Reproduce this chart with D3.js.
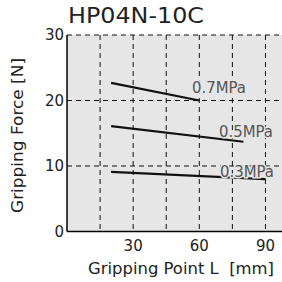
<!DOCTYPE html>
<html>
<head>
<meta charset="utf-8">
<script src="https://d3js.org/d3.v7.min.js"></script>
<style>
body { margin: 0; background: #fff; }
text { font-family: "DejaVu Sans", sans-serif; }
</style>
</head>
<body>
<div id="chart"></div>
<script>
var width = 282,
height = 282;

var title = "HP04N-10C";
var xTicks = [30, 60, 90];
var xGrid = [15, 30, 45, 60, 75, 90];
var yTicks = [0, 10, 20, 30];
var pressures = ["0.7MPa", "0.5MPa", "0.3MPa"];
var lineL = [[20, 60], [20, 80], [20, 90]];
var lineForce = [[22.7, 20], [16.1, 13.7], [9.1, 8.0]];

var x = d3.scaleLinear().domain([0, 97.5]).range([67, 282]);
var y = d3.scaleLinear().domain([0, 30]).range([231.5, 35]);

var svg = d3.select("#chart")
.append("svg")
.attr("width", width)
.attr("height", height);

// plot background
svg.append("rect")
.attr("x", x(0))
.attr("y", y(30))
.attr("width", width - x(0))
.attr("height", y(0) - y(30))
.attr("fill", "#e6e6e6");

// dashed grid
svg.selectAll(".vgrid")
.data(xGrid)
.enter()
.append("line")
.attr("x1", function(d) { return x(d) })
.attr("x2", function(d) { return x(d) })
.attr("y1", y(30))
.attr("y2", y(0))
.attr("stroke", "#111")
.attr("stroke-width", 1)
.attr("stroke-dasharray", "5,4");

svg.selectAll(".hgrid")
.data(yTicks.filter(function(d) { return d > 0 }))
.enter()
.append("line")
.attr("x1", x(0))
.attr("x2", width)
.attr("y1", function(d) { return y(d) })
.attr("y2", function(d) { return y(d) })
.attr("stroke", "#111")
.attr("stroke-width", 1)
.attr("stroke-dasharray", "5,4");

// axes lines
svg.append("line")
.attr("x1", x(0)).attr("x2", x(0))
.attr("y1", y(30)).attr("y2", y(0))
.attr("stroke", "#000").attr("stroke-width", 1.5);
svg.append("line")
.attr("x1", x(0)).attr("x2", width)
.attr("y1", y(0)).attr("y2", y(0))
.attr("stroke", "#000").attr("stroke-width", 1.5);

// tick labels
svg.selectAll(".ylab")
.data(yTicks)
.enter()
.append("text")
.text(function(d) { return d })
.attr("x", x(0) - 3)
.attr("y", function(d) { return y(d) + 5 })
.attr("text-anchor", "end")
.attr("font-size", "15px")
.attr("fill", "#222");

svg.selectAll(".xlab")
.data(xTicks)
.enter()
.append("text")
.text(function(d) { return d })
.attr("x", function(d) { return x(d) })
.attr("y", 251)
.attr("text-anchor", "middle")
.attr("font-size", "15px")
.attr("fill", "#222");

// pressure curves
var line = d3.line()
.x(function(d) { return x(d[0]) })
.y(function(d) { return y(d[1]) });

pressures.forEach(function(p, i) {
	var pts = lineL[i].map(function(l, j) { return [l, lineForce[i][j]] });
	svg.append("path")
	.attr("d", line(pts))
	.attr("fill", "none")
	.attr("stroke", "#111")
	.attr("stroke-width", 2.2);
});

// pressure labels
var labelPos = [[192, 22.0], [219, 15.3], [220, 9.3]];
svg.selectAll(".plab")
.data(pressures)
.enter()
.append("text")
.text(function(d) { return d })
.attr("x", function(d, i) { return labelPos[i][0] })
.attr("y", function(d, i) { return y(labelPos[i][1]) + 6 })
.attr("font-size", "15px")
.attr("textLength", 54)
.attr("lengthAdjust", "spacingAndGlyphs")
.attr("fill", "#555")
.attr("stroke", "#e6e6e6")
.attr("stroke-width", 3)
.attr("paint-order", "stroke");

// title
svg.append("text")
.text(title)
.attr("x", 68)
.attr("y", 23)
.attr("font-size", "21px")
.attr("fill", "#222")
.attr("textLength", 136)
.attr("lengthAdjust", "spacingAndGlyphs");

// axis titles
svg.append("text")
.text("Gripping Point L\u00a0\u00a0[mm]")
.attr("x", 88)
.attr("y", 274)
.attr("font-size", "15px")
.attr("fill", "#222")
.attr("textLength", 186)
.attr("lengthAdjust", "spacingAndGlyphs");

svg.append("text")
.text("Gripping Force [N]")
.attr("transform", "translate(23,213) rotate(-90)")
.attr("font-size", "15px")
.attr("fill", "#222")
.attr("textLength", 155)
.attr("lengthAdjust", "spacingAndGlyphs");
</script>
</body>
</html>
